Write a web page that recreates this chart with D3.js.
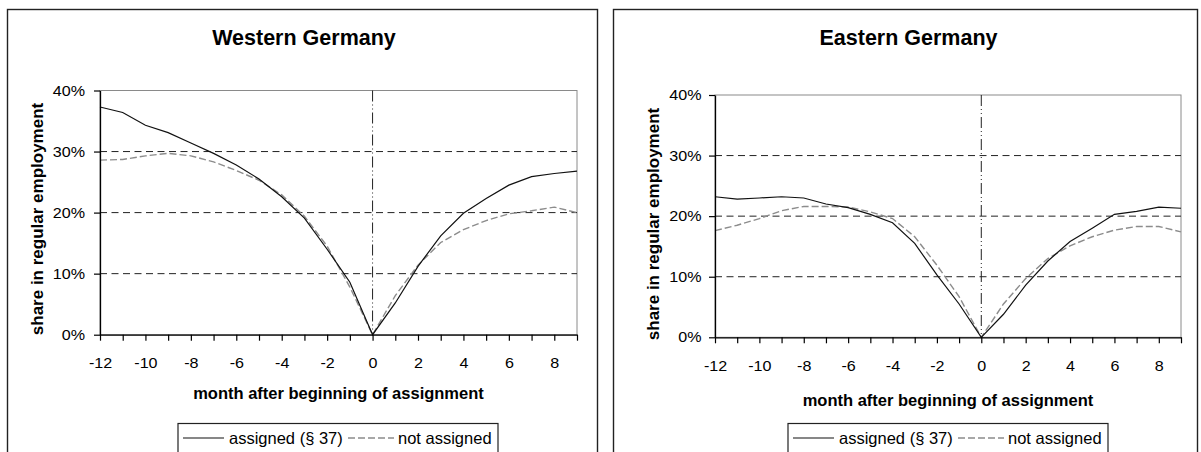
<!DOCTYPE html>
<html>
<head>
<meta charset="utf-8">
<script src="https://cdn.jsdelivr.net/npm/d3@7"></script>
<style>
  body { margin: 0; background: #fff; }
  svg text { font-family: "Liberation Sans", Arial, sans-serif; fill: #000; }
</style>
</head>
<body>
<script>
// months relative to assignment start
let months = [-12, -11, -10, -9, -8, -7, -6, -5, -4, -3, -2, -1, 0, 1, 2, 3, 4, 5, 6, 7, 8, 9];
let monthLabels = [-12, -10, -8, -6, -4, -2, 0, 2, 4, 6, 8];
let shareTicks = [0, 10, 20, 30, 40];
let gridLevels = [10, 20, 30];
let seriesNames = ['assigned (§ 37)', 'not assigned'];

// share in regular employment, %
let westAssigned = [37.3, 36.4, 34.3, 33.1, 31.4, 29.7, 27.8, 25.5, 22.6, 19.1, 14.0, 8.6, 0, 5.2, 11.2, 16.2, 19.9, 22.3, 24.5, 25.9, 26.4, 26.8];
let westNotAssigned = [28.6, 28.7, 29.3, 29.7, 29.3, 28.3, 26.9, 25.3, 22.9, 19.4, 14.5, 7.8, 0, 6.4, 11.4, 15.1, 17.2, 18.7, 19.8, 20.3, 20.9, 20.0];
let eastAssigned = [23.2, 22.8, 23.0, 23.2, 23.0, 22.0, 21.4, 20.3, 18.9, 15.5, 10.3, 5.5, 0, 3.8, 8.6, 12.6, 15.8, 18.0, 20.3, 20.8, 21.5, 21.3];
let eastNotAssigned = [17.6, 18.5, 19.6, 20.9, 21.6, 21.6, 21.5, 20.7, 19.6, 16.6, 11.9, 6.7, 0, 5.5, 9.7, 13.0, 15.1, 16.6, 17.7, 18.3, 18.3, 17.4];

! function () {
  let svg = d3.select('body').append('svg').attr('width', 1201).attr('height', 452);

  // layout of the two panels
  let panels = [
    {
      title: 'Western Germany', assigned: westAssigned, notAssigned: westNotAssigned,
      frameX: 7.5, frameW: 590, left: 100, right: 577, top: 90.5, bottom: 334.7,
      titleX: 304, xTitleX: 338.5, xTitleY: 398.7, yTitleX: 43, yTitleY: 219,
      yPad: 9, xPad: 16.7, legendX: 178
    },
    {
      title: 'Eastern Germany', assigned: eastAssigned, notAssigned: eastNotAssigned,
      frameX: 613.5, frameW: 584, left: 715, right: 1181, top: 95, bottom: 337.3,
      titleX: 908.5, xTitleX: 948, xTitleY: 405.5, yTitleX: 658.5, yTitleY: 224,
      yPad: 7.5, xPad: 17.7, legendX: 788
    }
  ];

  panels.forEach(function (p) {
    let g = svg.append('g');

    g.append('rect')
      .attr('x', p.frameX).attr('y', 9.5)
      .attr('width', p.frameW).attr('height', 470)
      .style('fill', 'none').style('stroke', '#222').style('stroke-width', 1.4);

    let x = d3.scaleLinear().domain([-12, 9]).range([p.left, p.right]);
    let y = d3.scaleLinear().domain([0, 40]).range([p.bottom, p.top]);

    // plot area border
    g.append('rect')
      .attr('x', p.left).attr('y', p.top)
      .attr('width', p.right - p.left).attr('height', p.bottom - p.top)
      .style('fill', 'none').style('stroke', '#8a8a8a').style('stroke-width', 1);

    // horizontal dashed gridlines
    g.selectAll('.grid').data(gridLevels).enter().append('line')
      .attr('x1', p.left).attr('x2', p.right)
      .attr('y1', d => y(d)).attr('y2', d => y(d))
      .style('stroke', '#222').style('stroke-width', 1)
      .style('stroke-dasharray', '7,4.5');

    // vertical line at month 0
    g.append('line')
      .attr('x1', x(0)).attr('x2', x(0))
      .attr('y1', y(40)).attr('y2', y(0))
      .style('stroke', '#222').style('stroke-width', 1)
      .style('stroke-dasharray', '11,3,1,3,1,3');

    let lineGen = d3.line()
      .x(function (d, i) { return x(months[i]); })
      .y(function (d) { return y(d); });

    g.append('path')
      .attr('d', lineGen(p.notAssigned))
      .style('fill', 'none').style('stroke', '#8c8c8c').style('stroke-width', 1.4)
      .style('stroke-dasharray', '7,3');

    g.append('path')
      .attr('d', lineGen(p.assigned))
      .style('fill', 'none').style('stroke', '#111').style('stroke-width', 1.2);

    // axes
    let xAxis = d3.axisBottom(x)
      .tickValues(months)
      .tickSize(6).tickSizeOuter(0).tickPadding(p.xPad)
      .tickFormat(d => monthLabels.indexOf(d) >= 0 ? String(d) : '');
    let gx = g.append('g').attr('transform', 'translate(0,' + p.bottom + ')').call(xAxis);

    let yAxis = d3.axisLeft(y)
      .tickValues(shareTicks)
      .tickSize(6).tickSizeOuter(0).tickPadding(p.yPad)
      .tickFormat(d => d + '%');
    let gy = g.append('g').attr('transform', 'translate(' + p.left + ',0)').call(yAxis);

    [gx, gy].forEach(function (a) {
      a.select('.domain').style('stroke', '#000').style('stroke-width', 1.3);
      a.selectAll('.tick line').style('stroke', '#000').style('stroke-width', 1.2);
      a.selectAll('.tick text')
        .style('font-size', '14.5px').style('fill', '#000')
        .each(function () {
          // labels in the source are a little wider than Arial
          let w = this.getComputedTextLength();
          if (w > 0) {
            d3.select(this).attr('textLength', w * 1.11).attr('lengthAdjust', 'spacingAndGlyphs');
          }
        });
    });

    // titles
    g.append('text')
      .attr('x', p.titleX).attr('y', 45)
      .attr('text-anchor', 'middle')
      .style('font-size', '21.5px').style('font-weight', 'bold')
      .text(p.title);

    g.append('text')
      .attr('x', p.xTitleX).attr('y', p.xTitleY)
      .attr('text-anchor', 'middle')
      .style('font-size', '16.5px').style('font-weight', 'bold')
      .text('month after beginning of assignment');

    g.append('text')
      .attr('transform', 'translate(' + p.yTitleX + ',' + p.yTitleY + ') rotate(-90)')
      .attr('text-anchor', 'middle')
      .style('font-size', '17px').style('font-weight', 'bold')
      .text('share in regular employment');

    // legend
    let lg = g.append('g').attr('transform', 'translate(' + p.legendX + ',423.5)');
    lg.append('rect')
      .attr('width', 320).attr('height', 36)
      .style('fill', '#fff').style('stroke', '#222').style('stroke-width', 1.2);
    lg.append('line')
      .attr('x1', 5).attr('x2', 46).attr('y1', 14.5).attr('y2', 14.5)
      .style('stroke', '#111').style('stroke-width', 1.2);
    lg.append('text')
      .attr('x', 51).attr('y', 20.5)
      .style('font-size', '16.5px')
      .text(seriesNames[0]);
    lg.append('line')
      .attr('x1', 170).attr('x2', 216).attr('y1', 14.5).attr('y2', 14.5)
      .style('stroke', '#8c8c8c').style('stroke-width', 1.4)
      .style('stroke-dasharray', '7,3');
    lg.append('text')
      .attr('x', 220).attr('y', 20.5)
      .style('font-size', '16.5px')
      .text(seriesNames[1]);
  });
}()
</script>
</body>
</html>
